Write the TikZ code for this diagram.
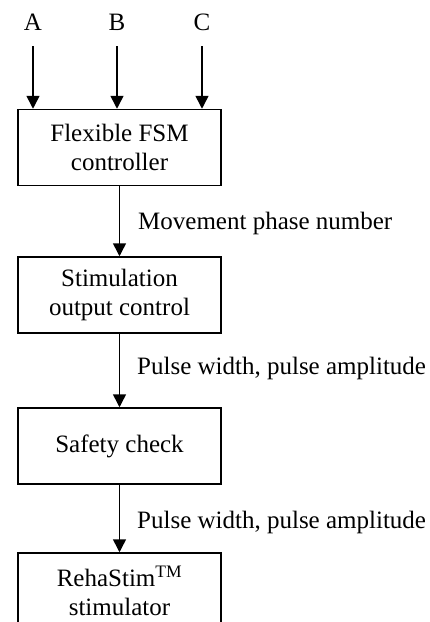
\documentclass[tikz,border=0pt]{standalone}
\usepackage{fontspec}
\setmainfont{Liberation Serif}
\usetikzlibrary{arrows.meta}
\begin{document}
\begin{tikzpicture}[x=1pt,y=-1pt,
  every node/.style={font=\fontsize{25}{28.5}\selectfont},
  blk/.style={draw,line width=1.5pt,minimum width=203pt,minimum height=76pt,align=center,inner sep=0pt},
  arr/.style={line width=1.5pt,-{Triangle[length=13pt,width=13pt]}},
  lbl/.style={anchor=west,inner sep=0pt}]
\useasboundingbox (0,0) rectangle (429,622);
\clip (0,0) rectangle (429,622);
\node[blk] (f) at (119.5,147.5) {Flexible FSM\\controller};
\node[blk] (s) at (119.5,295) {Stimulation\\output control};
\node[blk] (c) at (119.5,446) {Safety check};
\node[blk] (r) at (119.5,591) {RehaStim\textsuperscript{TM}\\stimulator};
\node (A) at (33,22) {A};
\node (B) at (117,22) {B};
\node (C) at (202,22) {C};
\coordinate (a0) at (33,46);
\coordinate (b0) at (117,46);
\coordinate (c0) at (202,46);
\draw[arr] (a0) -- (a0 |- f.north);
\draw[arr] (b0) -- (b0 |- f.north);
\draw[arr] (c0) -- (c0 |- f.north);
\draw[arr] (f) -- (s);
\draw[arr] (s) -- (c);
\draw[arr] (c) -- (r);
\node[lbl] (l1) at (138,223) {Movement phase number};
\node[lbl] (l2) at (137,368) {Pulse width, pulse amplitude};
\node[lbl] (l3) at (137,522) {Pulse width, pulse amplitude};
\end{tikzpicture}
\end{document}
